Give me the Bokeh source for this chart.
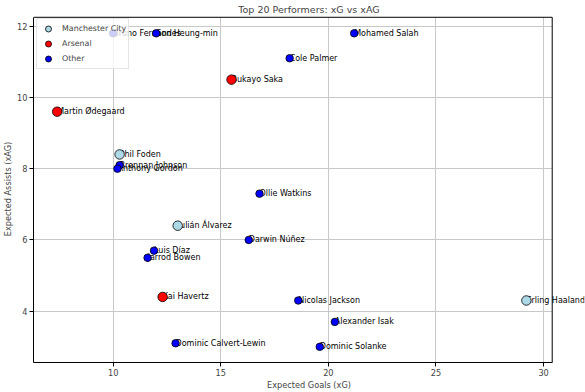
from bokeh.plotting import figure
from bokeh.models import FixedTicker, Range1d, Label
from bokeh.embed import file_html
from bokeh.resources import INLINE

players = ["Mohamed Salah", "Cole Palmer", "Bukayo Saka", "Martin Ødegaard", "Son Heung-min",
           "Bruno Fernandes", "Phil Foden", "Brennan Johnson", "Anthony Gordon", "Ollie Watkins",
           "Julián Álvarez", "Darwin Núñez", "Luis Díaz", "Jarrod Bowen", "Nicolas Jackson",
           "Alexander Isak", "Dominic Solanke", "Erling Haaland", "Kai Havertz", "Dominic Calvert-Lewin"]
xg = [21.2, 18.2, 15.5, 7.4, 12.0, 10.0, 10.3, 10.3, 10.2, 16.8,
      13.0, 16.3, 11.9, 11.6, 18.6, 20.3, 19.6, 29.2, 12.3, 12.9]
xag = [11.8, 11.1, 10.5, 9.6, 11.8, 11.8, 8.4, 8.1, 8.0, 7.3,
       6.4, 6.0, 5.7, 5.5, 4.3, 3.7, 3.0, 4.3, 4.4, 3.1]
team = ["Other", "Other", "Arsenal", "Arsenal", "Other", "Other", "Manchester City", "Other", "Other", "Other",
        "Manchester City", "Other", "Other", "Other", "Other", "Other", "Other", "Manchester City", "Arsenal", "Other"]

groups = ["Manchester City", "Arsenal", "Other"]
group_colors = ["#add8e6", "#ff0000", "#0000ff"]
group_sizes = [9.5, 9.5, 7.5]

x_ticks = [10, 15, 20, 25, 30]
y_ticks = [4, 6, 8, 10, 12]

# axes box limits, plus a little room so the last label and the top spine are not cut
x_lo, x_hi, x_room = 6.3, 30.4, 31.9
y_lo, y_hi, y_room = 2.56, 12.25, 12.3

FONT = "DejaVu Sans"

p = figure(width=585, height=392, output_backend="svg", toolbar_location=None,
           title="Top 20 Performers: xG vs xAG",
           x_range=Range1d(x_lo, x_room), y_range=Range1d(y_lo, y_room),
           x_axis_label="Expected Goals (xG)", y_axis_label="Expected Assists (xAG)",
           min_border_left=4, min_border_right=1, min_border_top=0, min_border_bottom=0)

p.title.align = "center"
p.title.text_font = FONT
p.title.text_font_size = "9.5px"
p.title.text_font_style = "normal"
p.title.offset = 0
p.title.standoff = 2

for ax in (p.xaxis[0], p.yaxis[0]):
    ax.axis_label_text_font = FONT
    ax.axis_label_text_font_size = "8.2px"
    ax.axis_label_text_font_style = "normal"
    ax.major_label_text_font = FONT
    ax.major_label_text_font_size = "8.2px"
    ax.major_tick_in = 0
    ax.major_tick_out = 4
    ax.minor_tick_in = 0
    ax.minor_tick_out = 0
    ax.axis_line_color = "black"
    ax.major_tick_line_color = "black"
    ax.axis_label_standoff = 1
    ax.major_label_standoff = 2

p.xaxis[0].ticker = FixedTicker(ticks=x_ticks)
p.yaxis[0].ticker = FixedTicker(ticks=y_ticks)
p.xaxis[0].bounds = (x_lo, x_hi)
p.yaxis[0].bounds = (y_lo, y_hi)

p.outline_line_color = None
p.grid.grid_line_color = "#c8c8c8"
p.grid.grid_line_width = 1
ygrid = p.ygrid[0]
if "cross_bounds" in ygrid.properties():
    ygrid.cross_bounds = (x_lo, x_hi)
xgrid = p.xgrid[0]
if "cross_bounds" in xgrid.properties():
    xgrid.cross_bounds = (y_lo, y_hi)

# top and right spines of the axes box
p.line(x=[x_lo, x_hi, x_hi], y=[y_hi, y_hi, y_lo], line_color="black", line_width=1)

# point labels (guide level: under the points and the legend)
for name, gx, gy in zip(players, xg, xag):
    p.add_layout(Label(x=gx, y=gy, text=name, level="guide",
                       text_font=FONT, text_font_size="8px",
                       text_baseline="alphabetic", text_align="left", text_color="black"))

for g, c, s in zip(groups, group_colors, group_sizes):
    gx = [a for a, t in zip(xg, team) if t == g]
    gy = [b for b, t in zip(xag, team) if t == g]
    r = p.scatter(gx, gy, size=s, fill_color=c, line_color="black", line_width=0.8, legend_label=g)
    r.level = "annotation"

lg = p.legend[0]
lg.level = "overlay"
lg.location = "top_left"
lg.label_text_font = FONT
lg.label_text_font_size = "7.9px"
lg.background_fill_alpha = 0.8
lg.border_line_color = "#cccccc"
lg.glyph_height = 15
lg.glyph_width = 18
lg.spacing = 0
lg.padding = 2
lg.margin = 3
lg.label_standoff = 5
lg.label_height = 12

open("out.html", "w").write(file_html(p, INLINE))
